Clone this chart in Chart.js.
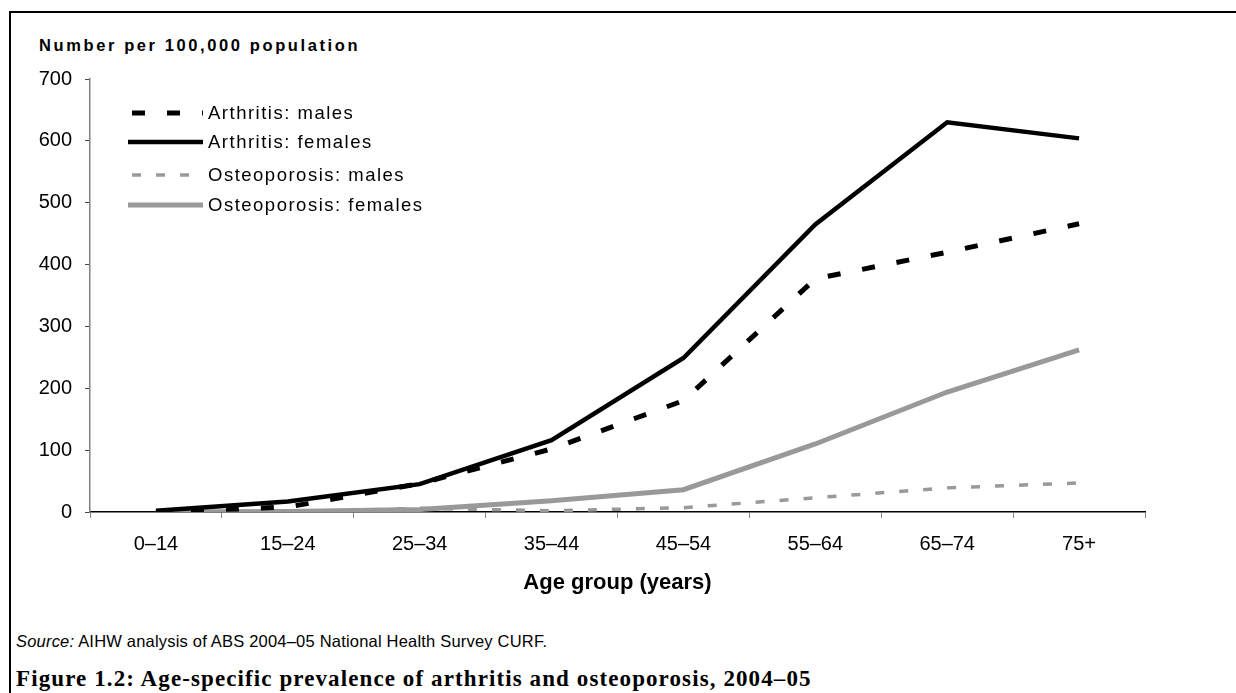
<!DOCTYPE html>
<html>
<head>
    <title>Age-specific prevalence of arthritis and osteoporosis</title>
    <script src="https://cdn.jsdelivr.net/npm/chart.js"></script>
    <style>
        body { margin: 0; width: 1236px; height: 693px; overflow: hidden; background: #fff; position: relative; }
        .rule { position: absolute; background: #000; }
        #frameTop { left: 9px; top: 11px; width: 1227px; height: 2px; }
        #frameLeft { left: 9px; top: 11px; width: 2px; height: 682px; }
        #chartBox { position: absolute; left: 0; top: 0; width: 1236px; height: 600px; }
        #ytitle { position: absolute; left: 39px; top: 36px; font: bold 16.5px "Liberation Sans", Arial, sans-serif; letter-spacing: 2.6px; white-space: nowrap; }
        #source { position: absolute; left: 16px; top: 632px; font: 16.5px "Liberation Sans", Arial, sans-serif; letter-spacing: 0.2px; white-space: nowrap; }
        #caption { position: absolute; left: 16px; top: 666px; font: bold 23px "Liberation Serif", "Times New Roman", serif; letter-spacing: 1.1px; white-space: nowrap; }
    </style>
</head>
<body>
    <div class="rule" id="frameTop"></div>
    <div class="rule" id="frameLeft"></div>
    <div id="ytitle">Number per 100,000 population</div>
    <div id="chartBox"><canvas id="prevChart"></canvas></div>
    <div id="source"><i>Source:</i> AIHW analysis of ABS 2004–05 National Health Survey CURF.</div>
    <div id="caption">Figure 1.2: Age-specific prevalence of arthritis and osteoporosis, 2004–05</div>

    <script>
        // values (number per 100,000 population)
        const ageGroups = ['0–14', '15–24', '25–34', '35–44', '45–54', '55–64', '65–74', '75+'];
        const arthritisMales = [0, 8, 46, 102, 180, 377, 420, 466];
        const arthritisFemales = [2, 17, 45, 116, 249, 465, 630, 604];
        const osteoMales = [0, 0, 6, 2, 7, 23, 39, 47];
        const osteoFemales = [0, 1, 4, 18, 36, 110, 194, 262];
        const seriesNames = ['Arthritis: males', 'Arthritis: females', 'Osteoporosis: males', 'Osteoporosis: females'];

        const FONT = '"Liberation Sans", Arial, sans-serif';
        const GREY = '#999999';

        // legend drawn inside the plot, top left, like the original
        const insideLegend = {
            id: 'insideLegend',
            afterDraw(chart) {
                const ctx = chart.ctx;
                const rows = [113, 142, 175, 205];
                chart.data.datasets.forEach((ds, i) => {
                    const y = rows[i];
                    ctx.save();
                    ctx.strokeStyle = ds.borderColor;
                    ctx.lineWidth = ds.borderWidth;
                    ctx.setLineDash(ds.borderDash || []);
                    ctx.lineDashOffset = ds.borderDash ? ds.borderDash[0] + ds.borderDash[1] - 4 : 0;
                    ctx.beginPath();
                    ctx.moveTo(128, y);
                    ctx.lineTo(203, y);
                    ctx.stroke();
                    ctx.setLineDash([]);
                    ctx.fillStyle = '#000';
                    ctx.font = '18.5px ' + FONT;
                    ctx.letterSpacing = '1.5px';
                    ctx.textBaseline = 'middle';
                    ctx.fillText(ds.label, 208, y + 1);
                    ctx.restore();
                });
            }
        };

        const ctx = document.getElementById('prevChart').getContext('2d');
        new Chart(ctx, {
            type: 'line',
            data: {
                labels: ageGroups,
                datasets: [
                    { label: seriesNames[0], data: arthritisMales, borderColor: '#000', borderWidth: 5, borderDash: [13, 22] },
                    { label: seriesNames[1], data: arthritisFemales, borderColor: '#000', borderWidth: 4.5 },
                    { label: seriesNames[2], data: osteoMales, borderColor: GREY, borderWidth: 3.5, borderDash: [9, 15] },
                    { label: seriesNames[3], data: osteoFemales, borderColor: GREY, borderWidth: 5 }
                ]
            },
            options: {
                responsive: true,
                maintainAspectRatio: false,
                animation: false,
                elements: {
                    point: { radius: 0, hoverRadius: 0 },
                    line: { tension: 0, fill: false }
                },
                layout: { padding: { left: 0, top: 79, right: 91, bottom: 0 } },
                plugins: {
                    legend: { display: false },
                    tooltip: { enabled: false }
                },
                scales: {
                    x: {
                        offset: true,
                        grid: { drawOnChartArea: false, drawTicks: true, tickLength: 6, color: '#888', offset: true },
                        border: { display: true, color: '#000', width: 1.5 },
                        ticks: { color: '#000', font: { family: FONT, size: 20 }, padding: 14, maxRotation: 0 },
                        title: { display: true, text: 'Age group (years)', color: '#000', font: { family: FONT, size: 22, weight: 'bold' }, padding: { top: 0 } },
                        afterFit: (s) => { s.height = 88; }
                    },
                    y: {
                        min: 0,
                        max: 700,
                        grid: { drawOnChartArea: false, drawTicks: true, tickLength: 5, color: '#444' },
                        border: { display: true, color: '#808080', width: 1.5 },
                        ticks: { stepSize: 100, color: '#000', font: { family: FONT, size: 20 }, padding: 13 },
                        afterFit: (s) => { s.width = 90; }
                    }
                }
            },
            plugins: [insideLegend]
        });
    </script>
</body>
</html>
